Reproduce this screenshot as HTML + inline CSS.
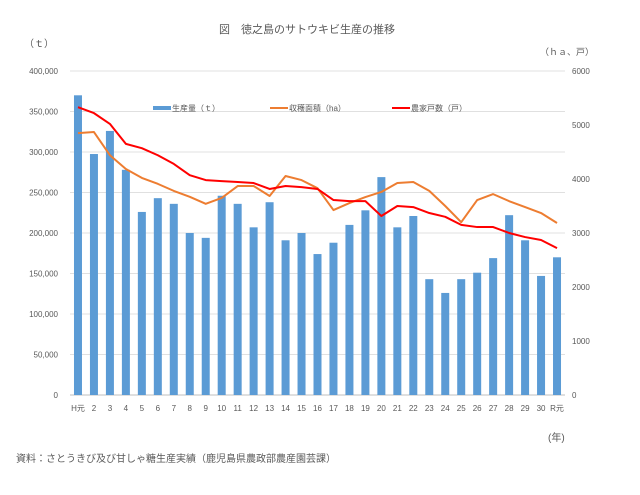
<!DOCTYPE html>
<html><head><meta charset="utf-8"><style>
body{margin:0;background:#fff;}
svg text{font-family:"Liberation Sans","Noto Sans CJK JP",sans-serif;fill:#595959;}
</style></head><body>
<svg width="640" height="490" xmlns="http://www.w3.org/2000/svg">
<rect width="640" height="490" fill="#fff"/>
<text x="307" y="33" font-size="11" text-anchor="middle">図　徳之島のサトウキビ生産の推移</text>
<text x="24" y="47" font-size="10">（ｔ）</text>
<text x="540" y="55" font-size="9">（ｈａ、戸）</text>
<text x="548" y="441" font-size="10">(年)</text>
<text x="16" y="462" font-size="10" fill="#000">資料：さとうきび及び甘しゃ糖生産実績（鹿児島県農政部農産園芸課）</text>
<g id="grid"></g><g id="bars"></g><g id="lines"></g><g id="axes"></g>
<g>
<rect x="153" y="106" width="18" height="4" fill="#5b9bd5"/>
<text x="172" y="111" font-size="8">生産量（ｔ）</text>
<line x1="270" y1="108" x2="288" y2="108" stroke="#ed7d31" stroke-width="2"/>
<text x="289" y="111" font-size="8">収穫面積（ha）</text>
<line x1="392" y1="108" x2="410" y2="108" stroke="#ff0000" stroke-width="2"/>
<text x="411" y="111" font-size="8">農家戸数（戸）</text>
</g>
</svg>
<script>
const categories=["H元","2","3","4","5","6","7","8","9","10","11","12","13","14","15","16","17","18","19","20","21","22","23","24","25","26","27","28","29","30","R元"];
const production=[370000,297500,326000,278000,226000,243000,236000,200000,194000,246000,236000,207000,238000,191000,200000,174000,188000,210000,228000,269000,207000,221000,143000,126000,143000,151000,169000,222000,191000,147000,170000];
const area=[4850,4870,4440,4185,4020,3910,3780,3670,3540,3650,3870,3870,3685,4055,3980,3830,3425,3555,3665,3760,3925,3945,3780,3500,3200,3610,3720,3590,3480,3370,3185];
const farms=[5330,5220,5020,4650,4570,4440,4280,4070,3980,3960,3945,3925,3815,3870,3850,3815,3610,3590,3590,3315,3500,3480,3370,3300,3150,3110,3110,3000,2925,2870,2720];
const leftTicks=[0,50000,100000,150000,200000,250000,300000,350000,400000];
const rightTicks=[0,1000,2000,3000,4000,5000,6000];
const NS="http://www.w3.org/2000/svg";
const x0=70,x1=565,yTop=71,yBot=395;
const step=(x1-x0)/categories.length;
const xPos=i=>x0+step*(i+0.5);
const yL=v=>yBot-(v/400000)*(yBot-yTop);
const yR=v=>yBot-(v/6000)*(yBot-yTop);
function mk(tag,attrs,parent){const e=document.createElementNS(NS,tag);for(const k in attrs)e.setAttribute(k,attrs[k]);document.getElementById(parent).appendChild(e);return e;}
leftTicks.forEach(t=>{
 const g=mk("line",{x1:x0,x2:x1,y1:yL(t),y2:yL(t),stroke:t===0?"#bfbfbf":"#e0e0e0","stroke-width":1},"grid");
 
 
 const tx=mk("text",{x:58,y:yL(t)+3,"font-size":8,"text-anchor":"end"},"axes");
 tx.textContent=t.toLocaleString("en-US");
 
 
});
rightTicks.forEach(t=>{
 const tx=mk("text",{x:572,y:yR(t)+3,"font-size":8},"axes");
 tx.textContent=t;
 
 
});
categories.forEach((c,i)=>{
 const tx=mk("text",{x:xPos(i),y:411,"font-size":8,"text-anchor":"middle"},"axes");
 tx.textContent=c;
 
 
 const b=mk("rect",{x:xPos(i)-4,y:yL(production[i]),width:8,height:yBot-yL(production[i]),fill:"#5b9bd5"},"bars");
 
 
});
function line(data,color,name){
 const p=mk("polyline",{points:data.map((v,i)=>xPos(i)+","+yR(v)).join(" "),fill:"none",stroke:color,"stroke-width":2,"stroke-linejoin":"round"},"lines");
 
 
}
line(area,"#ed7d31","area-line");
line(farms,"#ff0000","farms-line");
</script>
</body></html>
